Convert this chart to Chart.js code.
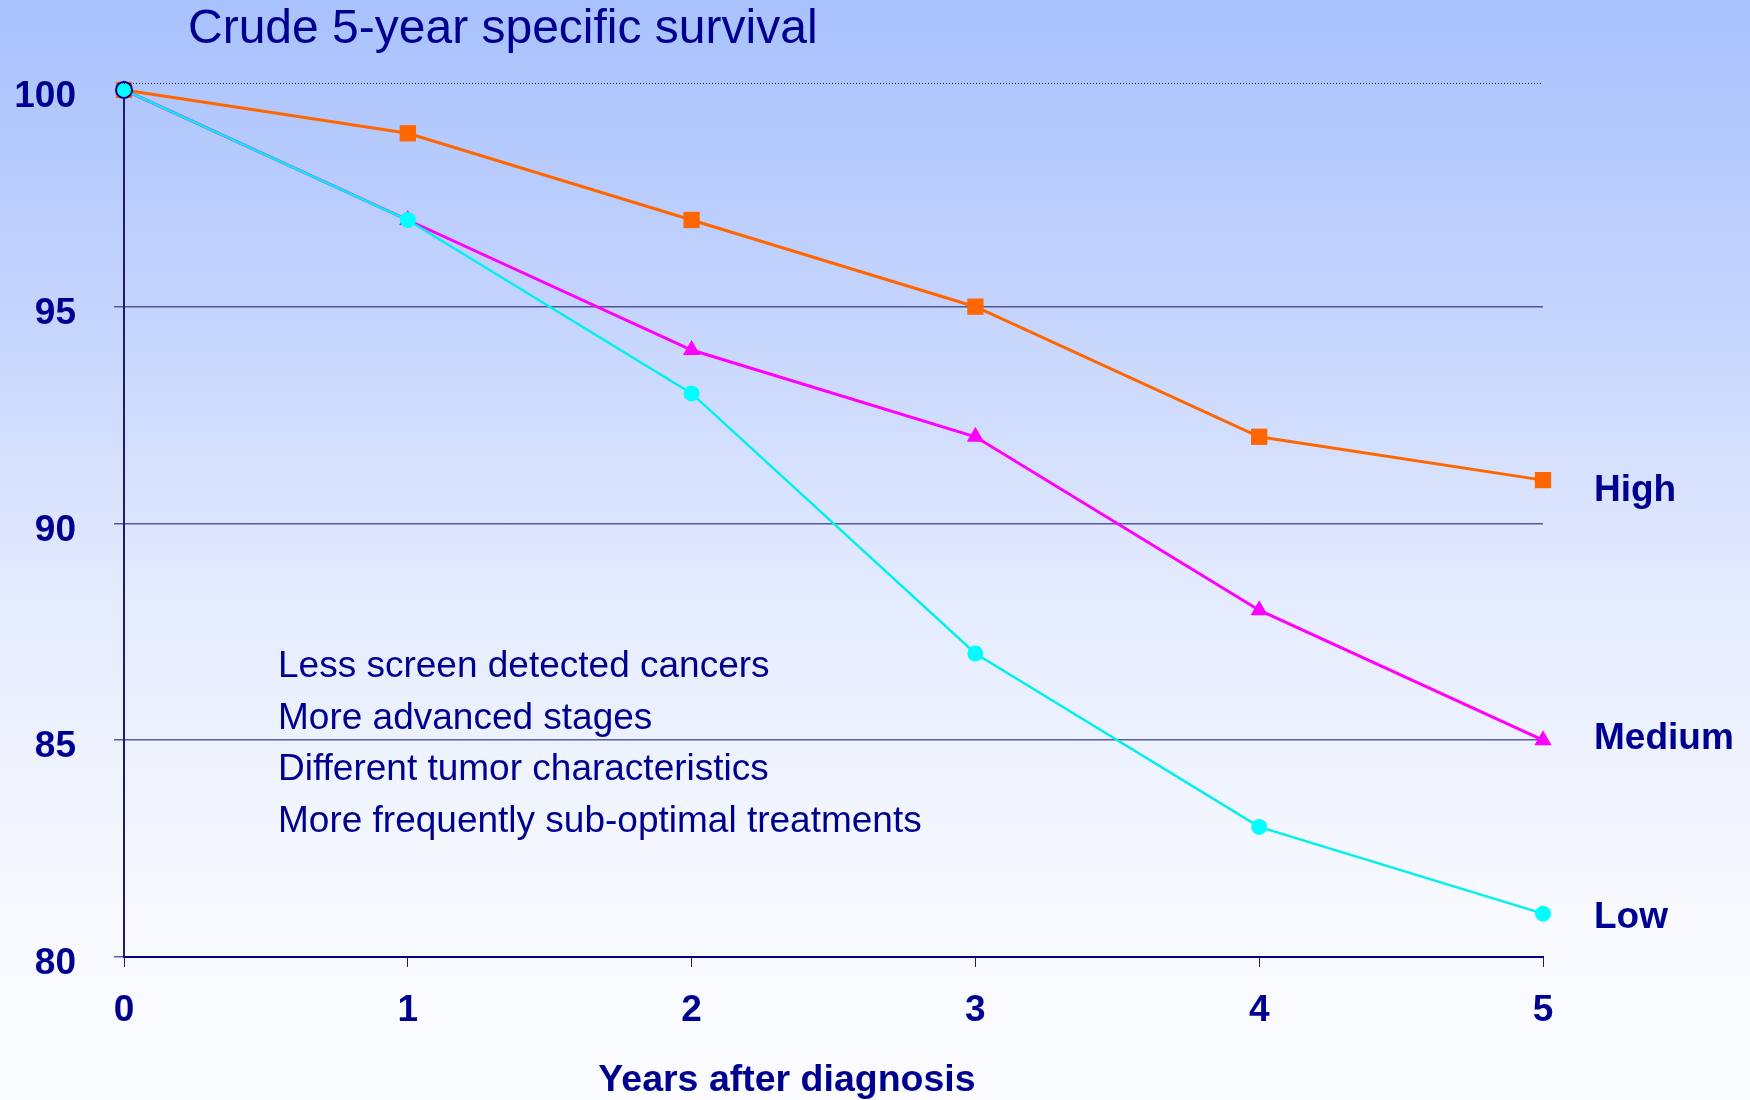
<!DOCTYPE html>
<html>
<head>
<meta charset="utf-8">
<title>Crude 5-year specific survival</title>
<script src="https://cdn.jsdelivr.net/npm/chart.js@4.4.0/dist/chart.umd.min.js"></script>
<style>
  html, body { margin: 0; padding: 0; overflow: hidden; }
  #wrap {
    width: 1750px;
    height: 1100px;
    background: linear-gradient(to bottom, #a8c2fd 0%, #c3d3fd 27%, #e5ecfe 55%, #f7f9ff 82%, #fbfcff 100%);
  }
</style>
</head>
<body>
<div id="wrap"><canvas id="survivalChart"></canvas></div>
<script>
// Data
const years = [0, 1, 2, 3, 4, 5];
const highSurvival = [100, 99, 97, 95, 92, 91];
const mediumSurvival = [100, 97, 94, 92, 88, 85];
const lowSurvival = [100, 97, 93, 87, 83, 81];
const seriesNames = ["High", "Medium", "Low"];
const yTicks = [80, 85, 90, 95, 100];

const chartTitle = "Crude 5-year specific survival";
const xTitle = "Years after diagnosis";
const notes = [
  "Less screen detected cancers",
  "More advanced stages",
  "Different tumor characteristics",
  "More frequently sub-optimal treatments",
];

const navy = "#000090";
const axisColor = "#1c1c78";
const gridColor = "rgba(40, 40, 130, 0.75)";
const fontFamily = '"Liberation Sans", Arial, sans-serif';
// small vertical nudges for the end labels, like on the slide
const labelNudge = [11, -1, 4];

function toPoints(values) {
  return values.map((v, i) => ({ x: years[i], y: v }));
}

// Title, axis title, end-of-line labels, notes and the dotted top border
const slideText = {
  id: "slideText",
  afterDraw(chart) {
    const ctx = chart.ctx;
    const area = chart.chartArea;
    ctx.save();

    // dotted line along the top of the plot
    ctx.strokeStyle = "#1a1a60";
    ctx.lineWidth = 1;
    ctx.setLineDash([1, 2]);
    ctx.beginPath();
    ctx.moveTo(area.left, area.top + 0.5);
    ctx.lineTo(area.right, area.top + 0.5);
    ctx.stroke();
    ctx.setLineDash([]);

    ctx.fillStyle = navy;
    ctx.textBaseline = "middle";
    ctx.textAlign = "left";

    ctx.font = "normal 48px " + fontFamily;
    ctx.fillText(chartTitle, 188, 30);

    ctx.font = "bold 37px " + fontFamily;
    chart.data.datasets.forEach((ds, i) => {
      const meta = chart.getDatasetMeta(i);
      const last = meta.data[meta.data.length - 1];
      ctx.fillText(seriesNames[i], area.right + 51, last.y + labelNudge[i]);
    });

    ctx.font = "normal 37px " + fontFamily;
    notes.forEach((line, i) => {
      ctx.fillText(line, 278, 667 + i * 51.5);
    });

    ctx.textAlign = "center";
    ctx.font = "bold 37.5px " + fontFamily;
    ctx.fillText(xTitle, 787, 1081);

    ctx.restore();
  },
};

const ctx = document.getElementById("survivalChart").getContext("2d");

const chart = new Chart(ctx, {
  type: "line",
  data: {
    datasets: [
      {
        label: seriesNames[0],
        data: toPoints(highSurvival),
        order: 3,
        borderColor: "#ff6600",
        backgroundColor: "#ff6600",
        borderWidth: 3,
        pointStyle: "rect",
        pointRadius: 11.5,
        pointBorderWidth: 0,
        pointBackgroundColor: "#ff6600",
        clip: false,
      },
      {
        label: seriesNames[1],
        data: toPoints(mediumSurvival),
        order: 2,
        borderColor: "#ff00ff",
        backgroundColor: "#ff00ff",
        borderWidth: 3,
        pointStyle: "triangle",
        pointRadius: 10,
        pointBorderWidth: 0,
        pointBackgroundColor: "#ff00ff",
        clip: false,
      },
      {
        label: seriesNames[2],
        data: toPoints(lowSurvival),
        order: 1,
        borderColor: "#00f0f0",
        backgroundColor: "#00ffff",
        borderWidth: 2.5,
        pointStyle: "circle",
        pointRadius: 8,
        pointBorderWidth: [2, 0, 0, 0, 0, 0],
        pointBorderColor: [navy, "#00ffff", "#00ffff", "#00ffff", "#00ffff", "#00ffff"],
        pointBackgroundColor: "#00ffff",
        clip: false,
      },
    ],
  },
  options: {
    responsive: true,
    maintainAspectRatio: false,
    animation: false,
    layout: {
      padding: { left: 0, right: 207, top: 83, bottom: 0 },
    },
    plugins: {
      legend: { display: false },
      title: { display: false },
      tooltip: { enabled: false },
    },
    scales: {
      x: {
        type: "linear",
        min: 0,
        max: 5,
        afterFit: (scale) => {
          scale.height = 143;
        },
        afterBuildTicks: (scale) => {
          scale.ticks = years.map((v) => ({ value: v }));
        },
        grid: {
          drawOnChartArea: false,
          drawTicks: true,
          tickLength: 10,
          color: axisColor,
          lineWidth: 1,
        },
        border: { display: true, color: "#000080", width: 2 },
        ticks: {
          padding: 22,
          color: navy,
          font: { family: fontFamily, size: 37, weight: "bold" },
        },
        title: { display: false },
      },
      y: {
        type: "linear",
        min: 80,
        max: 100.16,
        afterFit: (scale) => {
          scale.width = 124;
        },
        afterBuildTicks: (scale) => {
          scale.ticks = yTicks.map((v) => ({ value: v }));
        },
        grid: {
          drawTicks: true,
          tickLength: 10,
          lineWidth: 1.5,
          color: (c) => (c.tick && c.tick.value === 100 ? "rgba(0,0,0,0)" : gridColor),
        },
        border: { display: true, color: axisColor, width: 2 },
        ticks: {
          padding: 38,
          labelOffset: 7,
          color: navy,
          font: { family: fontFamily, size: 37, weight: "bold" },
        },
      },
    },
  },
  plugins: [slideText],
});
</script>
</body>
</html>
